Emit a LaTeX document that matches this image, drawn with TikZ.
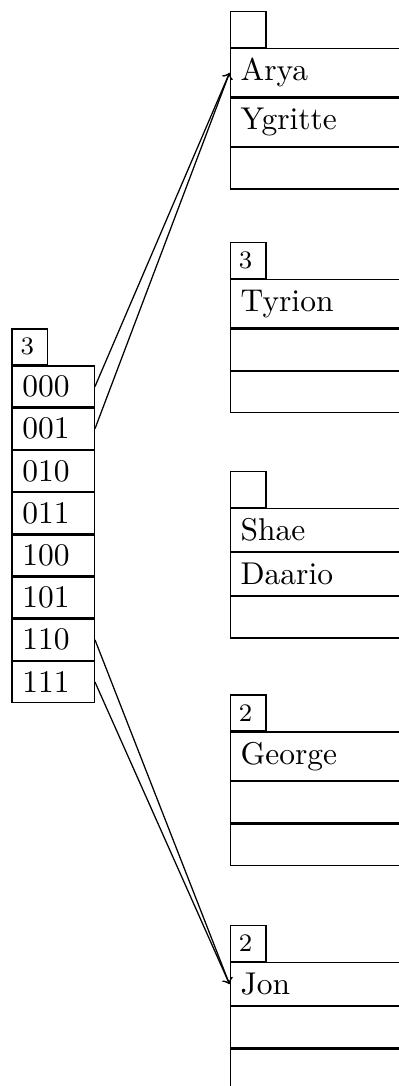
\documentclass[tikz,border=0pt]{standalone}
\begin{document}
\begin{tikzpicture}[x=0.3175pt,y=-0.3175pt,
  hdr/.style={draw, anchor=north west, font=\footnotesize, minimum width=11.4pt, minimum height=11.4pt, inner xsep=2.8pt, inner ysep=2.5pt, text width=5.8pt, align=left},
  dcell/.style={draw, anchor=north west, text width=19.5pt, align=left, inner ysep=2pt, minimum height=13.0pt},
  bcell/.style={draw, anchor=north west, text width=70pt, align=left, inner ysep=2pt, minimum height=13.09pt},
  tall/.style={minimum height=15.31pt},
  mid/.style={minimum height=13.57pt},
  ptr/.style={->}]
\clip (0,0) rectangle (399,1086);
% directory
\node[hdr] (dh) at (11.3,328.3) {3};
\node[dcell] (d0) at (dh.south west) {000};
\node[dcell] (d1) at (d0.south west) {001};
\node[dcell] (d2) at (d1.south west) {010};
\node[dcell] (d3) at (d2.south west) {011};
\node[dcell] (d4) at (d3.south west) {100};
\node[dcell] (d5) at (d4.south west) {101};
\node[dcell] (d6) at (d5.south west) {110};
\node[dcell] (d7) at (d6.south west) {111};
% bucket 1
\node[hdr] (b1h) at (229.5,11) {};
\node[bcell,tall] (b1c1) at (b1h.south west) {Arya};
\node[bcell,tall] (b1c2) at (b1c1.south west) {Ygritte};
\node[bcell] (b1c3) at (b1c2.south west) {};
% bucket 2
\node[hdr] (b2h) at (229.5,241.7) {3};
\node[bcell,tall] (b2c1) at (b2h.south west) {Tyrion};
\node[bcell] (b2c2) at (b2c1.south west) {};
\node[bcell] (b2c3) at (b2c2.south west) {};
% bucket 3
\node[hdr] (b3h) at (229.5,471) {};
\node[bcell,mid] (b3c1) at (b3h.south west) {Shae};
\node[bcell,mid] (b3c2) at (b3c1.south west) {Daario};
\node[bcell] (b3c3) at (b3c2.south west) {};
% bucket 4
\node[hdr] (b4h) at (229.5,694.3) {2};
\node[bcell,tall] (b4c1) at (b4h.south west) {George};
\node[bcell] (b4c2) at (b4c1.south west) {};
\node[bcell] (b4c3) at (b4c2.south west) {};
% bucket 5
\node[hdr] (b5h) at (229.5,925) {2};
\node[bcell,mid] (b5c1) at (b5h.south west) {Jon};
\node[bcell] (b5c2) at (b5c1.south west) {};
\node[bcell] (b5c3) at (b5c2.south west) {};
% pointers
\draw[ptr] (d0.east) -- (b1c1.west);
\draw[ptr] (d1.east) -- (b1c1.west);
\draw[ptr] (d6.east) -- (b5c1.west);
\draw[ptr] (d7.east) -- (b5c1.west);
\end{tikzpicture}
\end{document}
